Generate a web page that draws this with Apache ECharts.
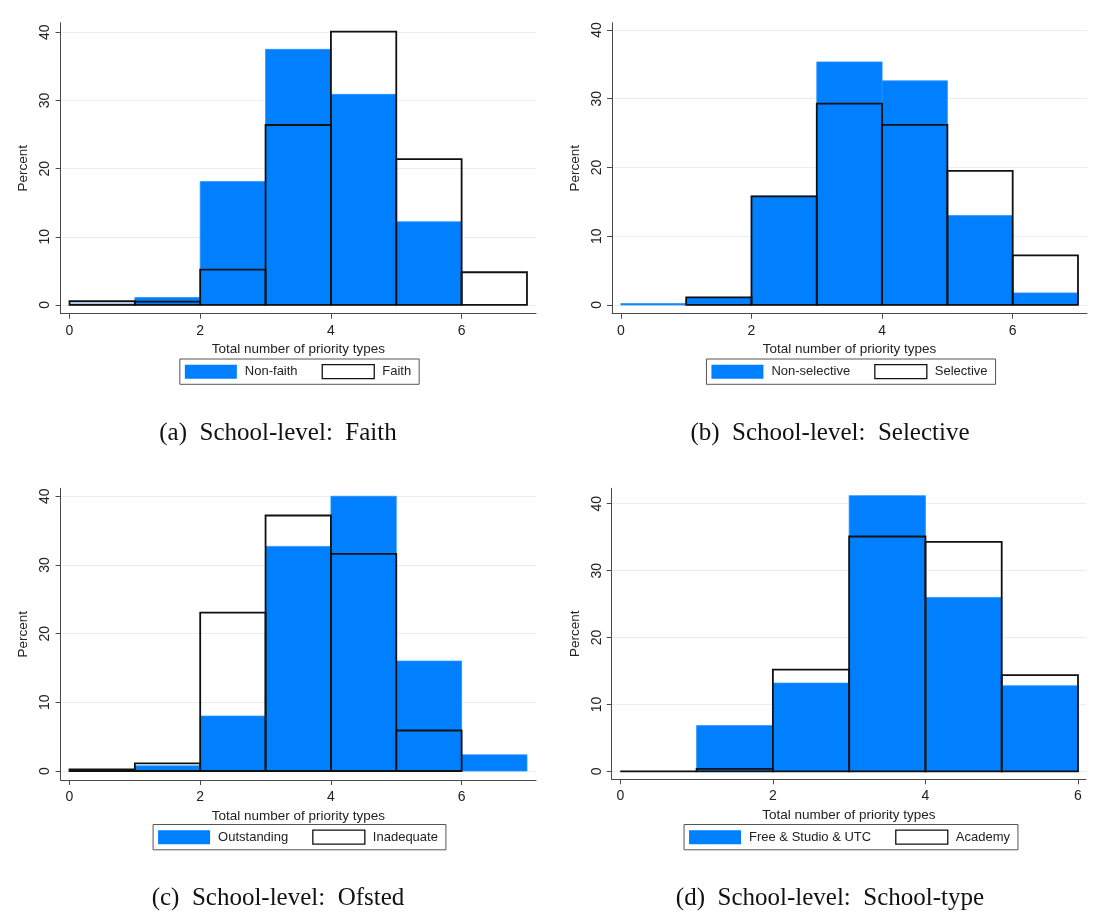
<!DOCTYPE html>
<html><head><meta charset="utf-8">
<script src="https://cdn.jsdelivr.net/npm/echarts@6/dist/echarts.min.js"></script>
<style>
html,body{margin:0;padding:0;background:#fff;overflow:hidden;width:1094px;height:913px;position:relative}
.p{position:absolute}
</style></head><body>
<div id="pa" class="p" style="left:0;top:0;width:596px;height:456px"></div>
<div id="pb" class="p" style="left:570px;top:0;width:559px;height:456px"></div>
<div id="pc" class="p" style="left:0;top:456px;width:596px;height:457px"></div>
<div id="pd" class="p" style="left:570px;top:456px;width:559px;height:457px"></div>
<script>
// ---- data (percent per bin, bin width 1) ----
const binStarts7 = [0, 1, 2, 3, 4, 5, 6];
const binStarts6 = [0, 1, 2, 3, 4, 5];
const yTickValues = [0, 10, 20, 30, 40];
const xTickValues = [0, 2, 4, 6];

const nonFaith = [0.15, 1.1, 18.1, 37.5, 30.9, 12.2, null];
const faith    = [0.55, 0.5, 5.2, 26.4, 40.1, 21.4, 4.8];

const nonSelective = [0.2, 1.1, 15.85, 35.35, 32.6, 13.0, 1.75];
const selective    = [null, 1.1, 15.8, 29.3, 26.2, 19.5, 7.2];

const outstanding = [0.1, 0.75, 8.0, 32.7, 40.0, 16.0, 2.35];
const inadequate  = [0.25, 1.1, 23.05, 37.2, 31.6, 5.9, null];

const freeStudioUtc = [0, 6.85, 13.2, 41.2, 26.0, 12.8];
const academy       = [0, 0.4, 15.2, 35.1, 34.3, 14.4];

const captions = [
  '(a)  School-level:  Faith',
  '(b)  School-level:  Selective',
  '(c)  School-level:  Ofsted',
  '(d)  School-level:  School-type'
];
const xTitle = 'Total number of priority types';
const yTitle = 'Percent';

// ---- styling ----
const BLUE = '#0080ff';
const SANS = '"Liberation Sans", Arial, sans-serif';
const SERIF = '"Liberation Serif", "Times New Roman", serif';
const AXIS = '#4a4a4a';

function buildBins(starts, vals) {
  const out = [];
  starts.forEach((s, i) => {
    if (vals[i] !== null && vals[i] !== undefined) out.push([s, s + 1, vals[i]]);
  });
  return out;
}

function makeRender(style) {
  return function (params, api) {
    const p0 = api.coord([api.value(0), 0]);
    const p1 = api.coord([api.value(1), api.value(2)]);
    return {
      type: 'rect',
      shape: { x: p0[0], y: p1[1], width: p1[0] - p0[0], height: p0[1] - p1[1] },
      style: style
    };
  };
}

const blueStyle = { fill: BLUE, stroke: '#2a90ff', lineWidth: 0.8 };
const outlineStyle = { fill: 'none', stroke: '#111', lineWidth: 1.8 };

function panel(id, cfg) {
  const chart = echarts.init(document.getElementById(id), null, { renderer: 'canvas' });
  chart.setOption({
    animation: false,
    title: {
      text: cfg.caption, left: cfg.captionX, top: cfg.captionY, textAlign: 'center', padding: 0,
      textStyle: { fontFamily: SERIF, fontSize: 25, fontWeight: 'normal', color: '#111' }
    },
    legend: {
      left: 'center', top: cfg.legendTop, orient: 'horizontal', selectedMode: false,
      itemWidth: 52, itemHeight: 14, itemGap: 24,
      padding: [5, 8, 5, 5], borderColor: '#555', borderWidth: 1,
      textStyle: { fontFamily: SANS, fontSize: 13, color: '#222', padding: [0, 0, 0, 3] },
      data: [
        { name: cfg.names[0], icon: 'rect', itemStyle: { color: BLUE, borderColor: BLUE, borderWidth: 0 } },
        { name: cfg.names[1], icon: 'rect', itemStyle: { color: '#fff', borderColor: '#111', borderWidth: 1.3 } }
      ]
    },
    grid: { left: cfg.grid[0], top: cfg.grid[1], width: cfg.grid[2], height: cfg.grid[3], outerBoundsMode: 'none' },
    xAxis: {
      type: 'value', min: cfg.xRange[0], max: cfg.xRange[1],
      name: xTitle, nameLocation: 'middle', nameGap: 22,
      nameTextStyle: { fontFamily: SANS, fontSize: 13.5, color: '#222' },
      axisLine: { show: true, onZero: false, lineStyle: { color: AXIS, width: 1 } },
      axisTick: { show: true, length: 5, lineStyle: { color: AXIS }, customValues: xTickValues },
      axisLabel: { customValues: xTickValues, margin: 10, fontFamily: SANS, fontSize: 14, color: '#222' },
      splitLine: { show: false }
    },
    yAxis: {
      type: 'value', min: cfg.yRange[0], max: cfg.yRange[1],
      name: yTitle, nameLocation: 'middle', nameGap: 23,
      nameTextStyle: { fontFamily: SANS, fontSize: 13.5, color: '#222' },
      axisLine: { show: true, onZero: false, lineStyle: { color: AXIS, width: 1 } },
      axisTick: { show: true, length: 5, lineStyle: { color: AXIS }, customValues: yTickValues },
      axisLabel: { customValues: yTickValues, rotate: 90, margin: 8, fontFamily: SANS, fontSize: 14, color: '#222' },
      splitLine: { show: true, lineStyle: { color: '#e6eef1', width: 1 } }
    },
    series: [
      { type: 'custom', name: cfg.names[0], renderItem: makeRender(blueStyle),
        data: buildBins(cfg.starts, cfg.vals[0]), encode: { x: [0, 1], y: 2 }, z: 2,
        itemStyle: { color: BLUE } },
      { type: 'custom', name: cfg.names[1], renderItem: makeRender(outlineStyle),
        data: buildBins(cfg.starts, cfg.vals[1]), encode: { x: [0, 1], y: 2 }, z: 3,
        itemStyle: { color: '#fff', borderColor: '#111' } }
    ]
  });
}

panel('pa', {
  caption: captions[0], captionX: 278, captionY: 421, legendTop: 359,
  grid: [60.6, 22.7, 475.4, 291], xRange: [-0.136, 7.138], yRange: [-1.28, 41.41],
  starts: binStarts7, vals: [nonFaith, faith], names: ['Non-faith', 'Faith']
});
panel('pb', {
  caption: captions[1], captionX: 260, captionY: 421, legendTop: 359,
  grid: [42, 22.7, 475, 291], xRange: [-0.136, 7.138], yRange: [-1.27, 41.06],
  starts: binStarts7, vals: [nonSelective, selective], names: ['Non-selective', 'Selective']
});
panel('pc', {
  caption: captions[2], captionX: 278, captionY: 430, legendTop: 368.5,
  grid: [60.6, 32.3, 475.4, 291.7], xRange: [-0.136, 7.138], yRange: [-1.31, 41.16],
  starts: binStarts7, vals: [outstanding, inadequate], names: ['Outstanding', 'Inadequate']
});
panel('pd', {
  caption: captions[3], captionX: 260, captionY: 430, legendTop: 368.5,
  grid: [41.7, 32.3, 474.3, 291], xRange: [-0.113, 6.105], yRange: [-1.17, 42.3],
  starts: binStarts6, vals: [freeStudioUtc, academy], names: ['Free & Studio & UTC', 'Academy']
});
</script>
</body></html>
